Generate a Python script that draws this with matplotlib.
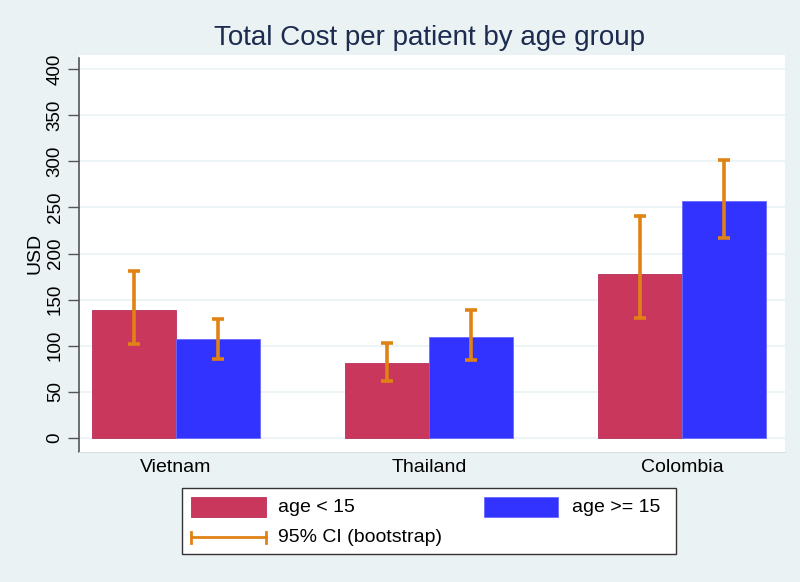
import matplotlib
matplotlib.use("Agg")
import matplotlib.pyplot as plt
import numpy as np
from matplotlib.patches import Rectangle
from matplotlib.lines import Line2D

plt.rcParams['font.family'] = ['Liberation Sans', 'DejaVu Sans']

# --- data ---
countries = ["Vietnam", "Thailand", "Colombia"]
young_mean = [139, 81, 178]          # age < 15
young_lo = [102, 62, 130]
young_hi = [181, 103, 241]
adult_mean = [107, 110, 257]         # age >= 15
adult_lo = [86, 84, 217]
adult_hi = [129, 139, 301]
yticks = [0, 50, 100, 150, 200, 250, 300, 350, 400]

BG = "#EAF2F3"
RED = "#C9385C"
BLUE = "#3333FF"
ORANGE = "#E08214"
NAVY = "#1C2B4F"

fig = plt.figure(figsize=(8, 5.82), dpi=100, facecolor=BG)
ax = fig.add_axes([0.09875, 0.2234, 0.8825, 0.682])
ax.set_facecolor("white")

x = np.arange(len(countries))
w = 0.332
ax.bar(x - w / 2, young_mean, w, color=RED, edgecolor="#B8305A", linewidth=0.6, zorder=2)
ax.bar(x + w / 2, adult_mean, w, color=BLUE, edgecolor="#6A6AFF", linewidth=0.6, zorder=2)

for xs, m, lo, hi in [(x - w / 2, young_mean, young_lo, young_hi),
                      (x + w / 2, adult_mean, adult_lo, adult_hi)]:
    m = np.array(m)
    err = [m - np.array(lo), np.array(hi) - m]
    ax.errorbar(xs, m, yerr=err, fmt="none", ecolor=ORANGE, elinewidth=2.6,
                capsize=4.3, capthick=2.6, zorder=3)

ax.set_xlim(-0.383, 2.407)
ax.set_ylim(-15.2, 415.2)
ax.set_yticks(yticks)
ax.set_yticklabels([str(v) for v in yticks], rotation=90, va="center", fontsize=13.5)
ax.tick_params(axis="y", length=8, width=1, color="#555555", pad=3)
ax.set_xticks(x)
ax.set_xticklabels(countries, fontsize=14)
ax.tick_params(axis="x", length=0, pad=5)
ax.set_ylabel("USD", fontsize=14, labelpad=2)
ax.grid(axis="y", color=BG, linewidth=1.2, zorder=0)
ax.set_axisbelow(True)
for s in ["top", "right"]:
    ax.spines[s].set_visible(False)
ax.spines["bottom"].set_color("#D8E2E4")
ax.spines["bottom"].set_linewidth(0.8)
ax.spines["left"].set_color("#555555")
ax.spines["left"].set_linewidth(1.2)
ax.spines["left"].set_bounds(-15.2, 412)

W, H = 800, 582
def fx(px):
    return px / W
def fy(py):
    return 1 - py / H

fig.text(fx(430), fy(38), "Total Cost per patient by age group", ha="center", va="center",
         fontsize=20, color=NAVY)

# --- legend drawn by hand ---
fig.add_artist(Rectangle((fx(182), fy(554)), fx(676) - fx(182), fy(488) - fy(554),
                         transform=fig.transFigure, facecolor="white",
                         edgecolor="#333333", linewidth=1))
fig.add_artist(Rectangle((fx(191), fy(517)), fx(266) - fx(191), fy(497) - fy(517),
                         transform=fig.transFigure, facecolor=RED, edgecolor="#B8305A", linewidth=0.6))
fig.add_artist(Rectangle((fx(484), fy(517)), fx(558) - fx(484), fy(497) - fy(517),
                         transform=fig.transFigure, facecolor=BLUE, edgecolor="#6A6AFF", linewidth=0.6))
fig.add_artist(Line2D([fx(191), fx(266)], [fy(537), fy(537)], transform=fig.transFigure,
                      color=ORANGE, linewidth=2))
for px in (191, 266):
    fig.add_artist(Line2D([fx(px), fx(px)], [fy(532), fy(543)], transform=fig.transFigure,
                          color=ORANGE, linewidth=2))
fig.text(fx(278), fy(508), "age < 15", ha="left", va="center", fontsize=14)
fig.text(fx(572), fy(508), "age >= 15", ha="left", va="center", fontsize=14)
fig.text(fx(278), fy(538), "95% CI (bootstrap)", ha="left", va="center", fontsize=14)

fig.savefig("out.png", dpi=100, facecolor=BG)
